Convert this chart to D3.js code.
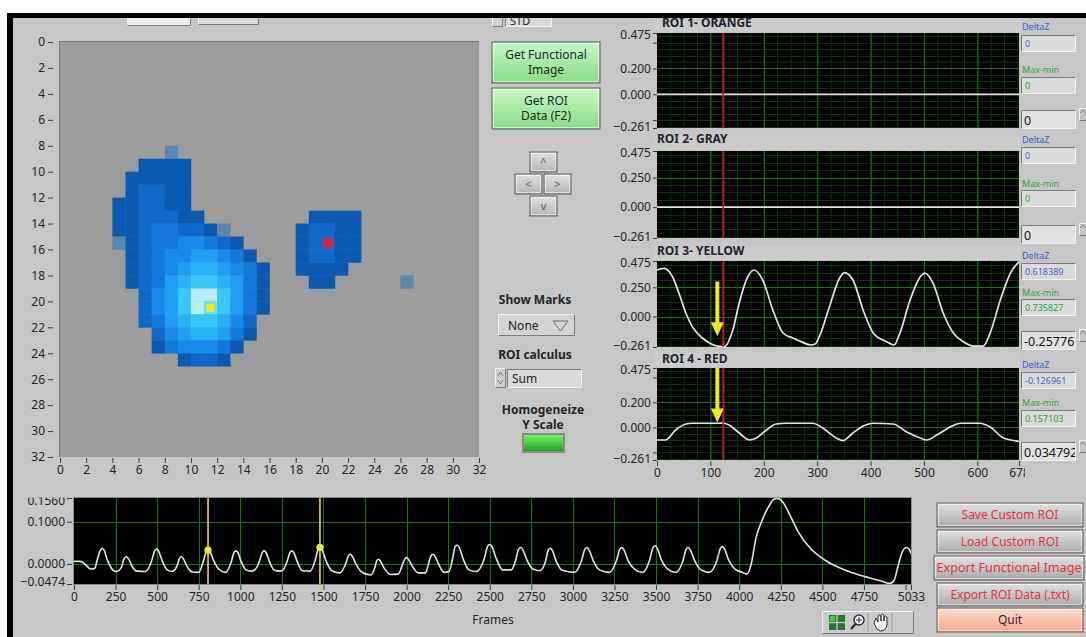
<!DOCTYPE html>
<html>
<head>
<meta charset="utf-8">
<title>ROI Functional Imaging</title>
<script src="https://cdn.jsdelivr.net/npm/d3@7/dist/d3.min.js"></script>
<style>
  html,body{margin:0;padding:0;background:#fff;}
  svg{display:block;}
  text{font-family:"Noto Sans","Open Sans",sans-serif;}
</style>
</head>
<body>
<svg id="panel" width="1086" height="637"></svg>
<script>
// ================= data =================
// Functional image, 32 x 32 pixels. One string per row:
// '.' = below threshold, 'g' = isolated pixel, '1'..'9' = intensity level
const imageRows = [
  "", "", "", "", "", "", "", "",
  "........g",
  "......1111",
  ".....11111",
  ".....12211",
  "....112211",
  "....1122211........1111",
  "....11233221g.....12211",
  "....g123344321....12211",
  ".....1234455431...12211",
  ".....12345665431..1111",
  ".....12356776531...11.....g",
  "......2457997531",
  "......2457987531",
  "......235677642",
  ".......24566531",
  ".......1344431",
  ".........1221",
  "", "", "", "", "", "", ""
];
const imageTicks = [0,2,4,6,8,10,12,14,16,18,20,22,24,26,28,30,32];
const roiMarks = [
  {col: 11, row: 20, mark: "yellow"},
  {col: 20, row: 15, mark: "red"}
];

// ROI traces
const roiNames = ["ROI 1- ORANGE", "ROI 2- GRAY", "ROI 3- YELLOW", "ROI 4 - RED"];
const roiYTicks = [
  [0.475, 0.200, 0.000, -0.261],
  [0.475, 0.250, 0.000, -0.261],
  [0.475, 0.250, 0.000, -0.261],
  [0.475, 0.200, 0.000, -0.261]
];
const roiMinorTicks = [[0.4, -0.2], [], [], [0.4, -0.2]];
const roiFrameTicks = [0, 100, 200, 300, 400, 500, 600, 678];
const roiCursorFrame = 124;

const roi1Frames = [0, 678];
const roi1Values = [0, 0];
const roi2Frames = [0, 678];
const roi2Values = [0, 0];
const roi3Frames = [0, 13, 29, 41, 54, 66, 85, 100, 116, 126, 142, 154, 170, 182, 198, 217, 236, 254, 270, 288, 296, 304, 323, 342, 351, 367, 386, 405, 430, 444, 455, 474, 493, 502, 517, 536, 555, 574, 593, 611, 624, 643, 662, 678];
const roi3Values = [0.398, 0.412, 0.341, 0.201, 0.030, -0.087, -0.184, -0.232, -0.255, -0.258, -0.116, 0.116, 0.341, 0.398, 0.312, 0.056, -0.141, -0.184, -0.215, -0.244, -0.236, -0.173, 0.084, 0.329, 0.375, 0.312, 0.056, -0.141, -0.216, -0.244, -0.141, 0.141, 0.341, 0.372, 0.286, 0.030, -0.141, -0.216, -0.253, -0.253, -0.141, 0.141, 0.372, 0.469];
const roi4Frames = [0, 16, 35, 54, 66, 116, 124, 135, 154, 173, 186, 205, 223, 242, 292, 311, 336, 348, 367, 386, 405, 442, 467, 493, 505, 524, 549, 568, 605, 624, 649, 678];
const roi4Values = [-0.101, -0.101, -0.021, 0.027, 0.033, 0.033, 0.035, 0.019, -0.045, -0.101, -0.085, -0.021, 0.027, 0.033, 0.033, -0.007, -0.085, -0.106, -0.045, 0.011, 0.033, 0.027, -0.035, -0.085, -0.101, -0.061, 0.003, 0.033, 0.033, 0.003, -0.085, -0.111];

const roiDeltaZ = ["0", "0", "0.618389", "-0.126961"];
const roiMaxMin = ["0", "0", "0.735827", "0.157103"];
const roiCursorValue = ["0", "0", "-0.25776", "0.034792"];

// Whole-recording trace
const traceFrames = [
  0, 40, 70, 100, 125,
  140, 158, 170, 182, 200, 225, 253,
  285, 302, 315, 328, 350, 377, 430,
  465, 485, 497, 509, 530, 560, 590,
  620, 635, 646, 658, 680, 710, 750,
  776, 795, 806, 818, 840, 870, 910,
  945, 962, 973, 985, 1005, 1035, 1075,
  1113, 1132, 1143, 1155, 1175, 1205, 1245,
  1280, 1298, 1309, 1321, 1342, 1372, 1420,
  1450, 1468, 1479, 1491, 1515, 1550, 1600,
  1633, 1650, 1661, 1673, 1695, 1730, 1785,
  1808, 1821, 1831, 1842, 1865, 1905, 1950,
  1972, 1988, 1999, 2010, 2035, 2070, 2115,
  2130, 2147, 2158, 2170, 2192, 2225, 2255,
  2275, 2292, 2303, 2316, 2340, 2375, 2420,
  2465, 2488, 2500, 2513, 2540, 2578, 2630,
  2655, 2674, 2686, 2698, 2725, 2760, 2800,
  2835, 2852, 2864, 2876, 2900, 2935, 3010,
  3052, 3072, 3084, 3096, 3122, 3160, 3220,
  3262, 3282, 3294, 3306, 3332, 3370, 3420,
  3462, 3482, 3494, 3506, 3532, 3570, 3620,
  3662, 3681, 3693, 3705, 3732, 3770, 3820,
  3866, 3887, 3899, 3911, 3938, 3975, 4020,
  4045, 4071, 4100, 4134, 4176, 4205, 4224, 4245, 4265, 4302, 4355, 4428, 4512, 4596, 4680, 4785, 4859, 4905,
  4930, 4955, 4980, 5005, 5020, 5033
];
const traceValues = [
  0.006, 0.006, -0.002, -0.012, -0.010,
  0.010, 0.032, 0.037, 0.032, 0.010, -0.010, -0.018,
  -0.008, 0.013, 0.017, 0.012, -0.006, -0.017, -0.018,
  0.005, 0.031, 0.035, 0.030, 0.008, -0.014, -0.018,
  -0.004, 0.013, 0.017, 0.012, -0.006, -0.019, -0.020,
  0.004, 0.029, 0.033, 0.029, 0.008, -0.012, -0.020,
  0.004, 0.027, 0.031, 0.027, 0.006, -0.014, -0.017,
  0.004, 0.027, 0.031, 0.027, 0.006, -0.015, -0.017,
  0.004, 0.027, 0.031, 0.027, 0.006, -0.016, -0.017,
  0.008, 0.035, 0.039, 0.034, 0.008, -0.016, -0.021,
  0.000, 0.019, 0.023, 0.019, 0.000, -0.019, -0.026,
  -0.010, 0.008, 0.011, 0.007, -0.010, -0.025, -0.024,
  -0.005, 0.011, 0.015, 0.011, -0.006, -0.021, -0.021,
  -0.002, 0.019, 0.023, 0.019, 0.000, -0.020, -0.018,
  0.010, 0.041, 0.045, 0.040, 0.012, -0.014, -0.018,
  0.010, 0.042, 0.046, 0.041, 0.012, -0.014, -0.014,
  0.008, 0.035, 0.039, 0.034, 0.008, -0.012, -0.016,
  0.006, 0.033, 0.037, 0.032, 0.006, -0.015, -0.020,
  0.008, 0.035, 0.039, 0.034, 0.008, -0.014, -0.020,
  0.008, 0.035, 0.039, 0.034, 0.008, -0.012, -0.020,
  0.010, 0.039, 0.043, 0.038, 0.010, -0.012, -0.020,
  0.008, 0.035, 0.039, 0.034, 0.008, -0.014, -0.020,
  0.008, 0.037, 0.041, 0.036, 0.008, -0.012, -0.020,
  -0.024, -0.002, 0.060, 0.100, 0.135, 0.152, 0.155, 0.153, 0.145, 0.118, 0.076, 0.037, 0.010, -0.008, -0.021, -0.033, -0.041, -0.046,
  -0.040, -0.005, 0.028, 0.039, 0.036, 0.025
];
const traceYTicks = [0.1560, 0.1000, 0.0000, -0.0474];
const traceFrameTicks = [0, 250, 500, 750, 1000, 1250, 1500, 1750, 2000, 2250, 2500, 2750, 3000, 3250, 3500, 3750, 4000, 4250, 4500, 4750, 5000, 5033];
const traceCursorFrames = [806, 1479];

// ================= styles =================
const levelColors = {
  "1": "#0b5ab2", "2": "#0e69c9", "3": "#1479dc", "4": "#1a8aea", "5": "#209ef2",
  "6": "#28b2f6", "7": "#36c6f8", "8": "#70dbf8", "9": "#b6eef6", "g": "#5b87ad"
};
const PANEL = "#c6c6c6";
const TEXT = "#262626";
const GRID_MAJOR = "#1d761d";
const GRID_MINOR = "#0b360b";
const TRACE = "#e4e4e4";

const svg = d3.select("#panel");
const defs = svg.append("defs");

function gradient(id, c0, c1) {
  const g = defs.append("linearGradient").attr("id", id).attr("x1", 0).attr("y1", 0).attr("x2", 0).attr("y2", 1);
  g.append("stop").attr("offset", "0%").attr("stop-color", c0);
  g.append("stop").attr("offset", "100%").attr("stop-color", c1);
}
gradient("gGreen", "#c9f7c6", "#86dc84");
gradient("gGray", "#e2e2e2", "#a9a9a9");
gradient("gQuit", "#fcdccc", "#f3a98c");
gradient("gLed", "#74f26a", "#1ea51e");
gradient("gKey", "#e0e0e0", "#b4b4b4");

function bevel(g, x, y, w, h, fill, sunken) {
  g.append("rect").attr("x", x).attr("y", y).attr("width", w).attr("height", h).attr("fill", fill);
  const dark = "#7c7c7c", light = "#f1f1f1";
  g.append("path").attr("d", `M${x + 0.5},${y + h - 0.5}V${y + 0.5}H${x + w - 0.5}`)
    .attr("fill", "none").attr("stroke", sunken ? dark : light);
  g.append("path").attr("d", `M${x + w - 0.5},${y + 0.5}V${y + h - 0.5}H${x + 0.5}`)
    .attr("fill", "none").attr("stroke", sunken ? light : dark);
}

function styleAxis(g, size) {
  g.select(".domain").remove();
  g.selectAll(".tick line").attr("stroke", "#3c3c3c");
  g.selectAll(".tick text").attr("fill", TEXT).style("font-size", (size || 12) + "px")
    .style("font-family", "'Noto Sans','Open Sans',sans-serif");
}

// ================= front panel =================
svg.append("rect").attr("width", 1086).attr("height", 637).attr("fill", "#fff");
svg.append("rect").attr("x", 13).attr("y", 18).attr("width", 1073).attr("height", 619).attr("fill", PANEL);

// partially visible controls along the top edge
const topBar = svg.append("g");
bevel(topBar, 127, 17, 64, 9, "#ececec", false);
bevel(topBar, 198, 17, 61, 8, "#d9d9d9", false);
bevel(topBar, 492, 14, 11, 13, "#d0d0d0", false);
bevel(topBar, 505, 14, 47, 13, "#dadada", true);
topBar.append("text").attr("x", 510).attr("y", 25).attr("font-size", 11).attr("fill", TEXT).text("STD");

// ================= functional image =================
const hx = d3.scaleLinear().domain([0, 32]).range([60, 479]);
const hy = d3.scaleLinear().domain([0, 32]).range([42, 457]);
const img = svg.append("g");
img.append("rect").attr("x", hx(0)).attr("y", hy(0)).attr("width", hx(32) - hx(0)).attr("height", hy(32) - hy(0))
  .attr("fill", "#9c9c9c");
img.append("path").attr("d", `M${hx(0) - 0.5},${hy(32)}V${hy(0) - 0.5}H${hx(32)}`).attr("stroke", "#7a7a7a").attr("fill", "none");

const pixels = [];
imageRows.forEach((row, r) => {
  row.padEnd(32, ".").split("").forEach((ch, c) => { if (ch !== ".") pixels.push({r, c, ch}); });
});
img.selectAll("rect.px").data(pixels).join("rect").attr("class", "px")
  .attr("x", d => hx(d.c)).attr("y", d => hy(d.r))
  .attr("width", d => hx(d.c + 1) - hx(d.c) + 0.3).attr("height", d => hy(d.r + 1) - hy(d.r) + 0.3)
  .attr("fill", d => levelColors[d.ch]);

roiMarks.forEach(m => {
  const cx = (hx(m.col) + hx(m.col + 1)) / 2, cy = (hy(m.row) + hy(m.row + 1)) / 2;
  if (m.mark === "red") {
    img.append("rect").attr("x", hx(m.col) + 1).attr("y", hy(m.row) + 1)
      .attr("width", hx(m.col + 1) - hx(m.col) - 2).attr("height", hy(m.row + 1) - hy(m.row) - 2)
      .attr("fill", "#9c3a6c");
    img.append("rect").attr("x", cx - 3).attr("y", cy - 3).attr("width", 6).attr("height", 6).attr("fill", "#ea1c2c");
  } else {
    img.append("rect").attr("x", cx - 4).attr("y", cy - 4).attr("width", 8).attr("height", 8).attr("fill", "#f3ea12");
  }
});

const hyAxis = svg.append("g").attr("transform", "translate(53,0)")
  .call(d3.axisLeft(hy).tickValues(imageTicks).tickSize(5).tickPadding(3).tickFormat(d3.format("d")));
styleAxis(hyAxis);
const hxAxis = svg.append("g").attr("transform", `translate(0,${hy(32) + 1})`)
  .call(d3.axisBottom(hx).tickValues(imageTicks).tickSize(5).tickPadding(2).tickFormat(d3.format("d")));
styleAxis(hxAxis);

// ================= middle controls =================
const mid = svg.append("g");
function button(g, x, y, w, h, fill, lines, color, size) {
  g.append("rect").attr("x", x).attr("y", y).attr("width", w).attr("height", h).attr("fill", fill)
    .attr("stroke", "#5e5e5e").attr("stroke-width", 1);
  g.append("rect").attr("x", x + 1.5).attr("y", y + 1.5).attr("width", w - 3).attr("height", h - 3)
    .attr("fill", "none").attr("stroke", "rgba(255,255,255,0.55)");
  const n = lines.length, lh = size + 3;
  lines.forEach((t, i) => {
    g.append("text").attr("x", x + w / 2).attr("y", y + h / 2 + (i - (n - 1) / 2) * lh + size * 0.36)
      .attr("text-anchor", "middle").attr("font-size", size).attr("fill", color).text(t);
  });
}
button(mid, 492, 42, 108, 41, "url(#gGreen)", ["Get Functional", "Image"], "#1f2b1f", 12);
button(mid, 492, 88, 108, 41, "url(#gGreen)", ["Get ROI", "Data (F2)"], "#1f2b1f", 12);

// navigation keypad
[["^", 530, 152], ["<", 515, 174], [">", 544, 174], ["v", 530, 196]].forEach(([t, x, y]) => {
  button(mid, x, y, 27, 20, "url(#gKey)", [t], "#5a5a5a", 11);
});

mid.append("text").attr("x", 535).attr("y", 304).attr("text-anchor", "middle").attr("font-size", 12)
  .attr("font-weight", "bold").attr("fill", TEXT).text("Show Marks");
bevel(mid, 498, 314, 77, 22, "#d3d3d3", false);
mid.append("text").attr("x", 508).attr("y", 330).attr("font-size", 12).attr("fill", TEXT).text("None");
mid.append("path").attr("d", "M553,321H568L560.5,331Z").attr("fill", "none").attr("stroke", "#6a6a6a");

mid.append("text").attr("x", 535).attr("y", 359).attr("text-anchor", "middle").attr("font-size", 12)
  .attr("font-weight", "bold").attr("fill", TEXT).text("ROI calculus");
bevel(mid, 495, 368, 11, 20, "#cdcdcd", false);
mid.append("path").attr("d", "M498,376L500.5,372L503,376M498,380L500.5,384L503,380").attr("fill", "none").attr("stroke", "#777");
bevel(mid, 507, 369, 75, 19, "#d9d9d9", true);
mid.append("text").attr("x", 512).attr("y", 383).attr("font-size", 12).attr("fill", TEXT).text("Sum");

mid.append("text").attr("x", 543).attr("y", 414).attr("text-anchor", "middle").attr("font-size", 12)
  .attr("font-weight", "bold").attr("fill", TEXT).text("Homogeneize");
mid.append("text").attr("x", 543).attr("y", 429).attr("text-anchor", "middle").attr("font-size", 12)
  .attr("font-weight", "bold").attr("fill", TEXT).text("Y Scale");
mid.append("rect").attr("x", 522).attr("y", 433).attr("width", 43).attr("height", 20).attr("fill", "#8a8a8a");
mid.append("rect").attr("x", 524).attr("y", 435).attr("width", 39).attr("height", 16).attr("fill", "url(#gLed)");

// ================= ROI graphs =================
const rx = d3.scaleLinear().domain([0, 678]).range([657, 1019]);
const panels = [
  {title: 22, top: 33, bottom: 128, dz: 27, dzBox: 35, mm: 70, mmBox: 77, cur: 110},
  {title: 138, top: 151, bottom: 238, dz: 140, dzBox: 147, mm: 184, mmBox: 190, cur: 225},
  {title: 250, top: 261, bottom: 347, dz: 256, dzBox: 263, mm: 293, mmBox: 299, cur: 331},
  {title: 358, top: 368, bottom: 460, dz: 365, dzBox: 372, mm: 403, mmBox: 410, cur: 442}
];
const roiSeries = [
  [roi1Frames, roi1Values], [roi2Frames, roi2Values], [roi3Frames, roi3Values], [roi4Frames, roi4Values]
];
const arrowSpans = [null, null, [0.30, -0.17], [0.475, 0.04]];

panels.forEach((p, i) => {
  const g = svg.append("g");
  const ry = d3.scaleLinear().domain([-0.261, 0.475]).range([p.bottom, p.top]);
  const ticks = roiYTicks[i];

  // title strip
  g.append("rect").attr("x", 654).attr("y", p.top - 15).attr("width", 367).attr("height", 14).attr("fill", "#cbcbcb");
  g.append("text").attr("x", i === 0 || i === 3 ? 662 : 657).attr("y", p.title + 4.5).attr("font-size", 12)
    .attr("font-weight", "bold").attr("fill", "#1e2430").text(roiNames[i]);

  // plot area
  const clipId = "clipRoi" + i;
  defs.append("clipPath").attr("id", clipId).append("rect")
    .attr("x", rx(0)).attr("y", p.top).attr("width", rx(678) - rx(0)).attr("height", p.bottom - p.top);
  g.append("rect").attr("x", rx(0)).attr("y", p.top).attr("width", rx(678) - rx(0)).attr("height", p.bottom - p.top)
    .attr("fill", "#000");
  const plot = g.append("g").attr("clip-path", `url(#${clipId})`);

  // grid: four minor divisions per major division
  const ystep = (ticks[1] - ticks[2]) / 4;
  const hMinor = d3.range(Math.ceil(-0.261 / ystep), Math.floor(0.475 / ystep) + 1).map(k => k * ystep);
  const vMinor = d3.range(25, 678, 25);
  plot.selectAll("line.vmin").data(vMinor).join("line").attr("class", "vmin")
    .attr("x1", d => rx(d) + 0.5).attr("x2", d => rx(d) + 0.5).attr("y1", p.top).attr("y2", p.bottom)
    .attr("stroke", GRID_MINOR);
  plot.selectAll("line.hmin").data(hMinor).join("line").attr("class", "hmin")
    .attr("y1", d => Math.round(ry(d)) + 0.5).attr("y2", d => Math.round(ry(d)) + 0.5).attr("x1", rx(0)).attr("x2", rx(678))
    .attr("stroke", GRID_MINOR);
  plot.selectAll("line.vmaj").data(roiFrameTicks.slice(1, -1)).join("line").attr("class", "vmaj")
    .attr("x1", d => rx(d) + 0.5).attr("x2", d => rx(d) + 0.5).attr("y1", p.top).attr("y2", p.bottom)
    .attr("stroke", GRID_MAJOR);
  plot.selectAll("line.hmaj").data(ticks.slice(1, -1)).join("line").attr("class", "hmaj")
    .attr("y1", d => Math.round(ry(d)) + 0.5).attr("y2", d => Math.round(ry(d)) + 0.5).attr("x1", rx(0)).attr("x2", rx(678))
    .attr("stroke", GRID_MAJOR);

  // trace
  const [fr, vals] = roiSeries[i];
  const pts = fr.map((f, k) => [f, vals[k]]);
  plot.append("path").datum(pts).attr("fill", "none").attr("stroke", TRACE).attr("stroke-width", 1.7)
    .attr("d", d3.line().x(d => rx(d[0])).y(d => ry(d[1])).curve(d3.curveMonotoneX));

  // cursor
  plot.append("line").attr("x1", rx(roiCursorFrame)).attr("x2", rx(roiCursorFrame))
    .attr("y1", p.top).attr("y2", p.bottom).attr("stroke", "#d8141c").attr("stroke-width", 1.6);

  // annotation arrow
  if (arrowSpans[i]) {
    const ax = rx(113), y0 = ry(arrowSpans[i][0]), y1 = ry(arrowSpans[i][1]);
    g.append("path").attr("fill", "#f5e81a")
      .attr("d", `M${ax - 2},${y0}H${ax + 2}V${y1 - 14}H${ax + 6.5}L${ax},${y1}L${ax - 6.5},${y1 - 14}H${ax - 2}Z`);
  }

  // y axis
  const ya = g.append("g").attr("transform", `translate(${rx(0)},0)`)
    .call(d3.axisLeft(ry).tickValues(ticks).tickSize(4).tickPadding(2).tickFormat(d3.format(".3f")));
  styleAxis(ya);
  ya.selectAll(".tick text").attr("dy", (d, k) => k === 0 ? "0.45em" : (k === ticks.length - 1 ? "0.2em" : "0.32em"));
  roiMinorTicks[i].forEach(v => {
    g.append("line").attr("x1", rx(0) - 4).attr("x2", rx(0)).attr("y1", ry(v) + 0.5).attr("y2", ry(v) + 0.5)
      .attr("stroke", "#3c3c3c");
  });

  // side read-outs
  const s = svg.append("g");
  s.append("text").attr("x", 1022).attr("y", p.dz + 3).attr("font-size", 9).attr("fill", "#3b62d4").text("DeltaZ");
  bevel(s, 1021, p.dzBox, 55, 17, "#dadada", true);
  s.append("text").attr("x", 1025).attr("y", p.dzBox + 12).attr("font-size", 9).attr("fill", "#3f62d2").text(roiDeltaZ[i]);
  s.append("text").attr("x", 1022).attr("y", p.mm + 3).attr("font-size", 9).attr("fill", "#36a23a").text("Max-min");
  bevel(s, 1021, p.mmBox, 55, 17, "#dadada", true);
  s.append("text").attr("x", 1025).attr("y", p.mmBox + 12).attr("font-size", 9).attr("fill", "#2f9e3a").text(roiMaxMin[i]);

  const cid = "clipCur" + i;
  defs.append("clipPath").attr("id", cid).append("rect").attr("x", 1021).attr("y", p.cur).attr("width", 54).attr("height", 19);
  bevel(s, 1021, p.cur, 55, 19, "#e1e1e1", true);
  s.append("text").attr("clip-path", `url(#${cid})`).attr("x", 1024).attr("y", p.cur + 14.5).attr("font-size", 12.5)
    .attr("fill", "#141414").text(roiCursorValue[i]);
  bevel(s, 1079, p.cur - 2, 8, 13, "#c4c4c4", false);
  s.append("path").attr("d", `M1080.5,${p.cur + 3}L1083,${p.cur}L1085.5,${p.cur + 3}`).attr("fill", "none").attr("stroke", "#5d8f5d");
});

// shared frame axis under ROI 4
{
  const p = panels[3];
  defs.append("clipPath").attr("id", "clipRoiAxis").append("rect").attr("x", 600).attr("y", p.bottom).attr("width", 425).attr("height", 30);
  const xa = svg.append("g").attr("clip-path", "url(#clipRoiAxis)").append("g").attr("transform", `translate(0,${p.bottom + 1})`)
    .call(d3.axisBottom(rx).tickValues(roiFrameTicks).tickSize(5).tickPadding(2).tickFormat(d3.format("d")));
  styleAxis(xa);
}

// ================= whole-recording trace =================
const tx = d3.scaleLinear().domain([0, 5033]).range([74, 911]);
const ty = d3.scaleLinear().domain([-0.0474, 0.1560]).range([584, 498]);
const tr = svg.append("g");
tr.append("rect").attr("x", tx(0) - 1).attr("y", ty(0.156) - 1).attr("width", tx(5033) - tx(0) + 2)
  .attr("height", ty(-0.0474) - ty(0.156) + 2).attr("fill", "#8e8e8e");
tr.append("rect").attr("x", tx(0)).attr("y", ty(0.156)).attr("width", tx(5033) - tx(0))
  .attr("height", ty(-0.0474) - ty(0.156)).attr("fill", "#000");
defs.append("clipPath").attr("id", "clipTrace").append("rect")
  .attr("x", tx(0)).attr("y", ty(0.156)).attr("width", tx(5033) - tx(0)).attr("height", ty(-0.0474) - ty(0.156));
const tplot = tr.append("g").attr("clip-path", "url(#clipTrace)");
tplot.selectAll("line.v").data(traceFrameTicks.slice(1, -2)).join("line").attr("class", "v")
  .attr("x1", d => Math.round(tx(d)) + 0.5).attr("x2", d => Math.round(tx(d)) + 0.5)
  .attr("y1", ty(0.156)).attr("y2", ty(-0.0474)).attr("stroke", GRID_MAJOR);
tplot.selectAll("line.h").data(traceYTicks.slice(1, -1)).join("line").attr("class", "h")
  .attr("y1", d => Math.round(ty(d)) + 0.5).attr("y2", d => Math.round(ty(d)) + 0.5)
  .attr("x1", tx(0)).attr("x2", tx(5033)).attr("stroke", GRID_MAJOR);

const tracePts = traceFrames.map((f, k) => [f, traceValues[k]]);
tplot.append("path").datum(tracePts).attr("fill", "none").attr("stroke", TRACE).attr("stroke-width", 1.6)
  .attr("d", d3.line().x(d => tx(d[0])).y(d => ty(d[1])).curve(d3.curveMonotoneX));

traceCursorFrames.forEach(f => {
  const v = traceValues[traceFrames.indexOf(f)];
  tplot.append("line").attr("x1", tx(f)).attr("x2", tx(f)).attr("y1", ty(0.156)).attr("y2", ty(-0.0474))
    .attr("stroke", "#e9dc2a").attr("stroke-width", 1.6);
  tplot.append("circle").attr("cx", tx(f)).attr("cy", ty(v)).attr("r", 3.6).attr("fill", "#f2ea2e");
});

const tya = svg.append("g").attr("transform", `translate(${tx(0) - 2},0)`)
  .call(d3.axisLeft(ty).tickValues(traceYTicks).tickSize(5).tickPadding(2).tickFormat(d3.format(".4f")));
styleAxis(tya);
tya.selectAll(".tick text").attr("dy", (d, k) => k === 0 ? "0.5em" : (k === traceYTicks.length - 1 ? "0.1em" : "0.32em"));
// the top label sits partly under the panel edge above the graph
svg.append("rect").attr("x", 14).attr("y", 488).attr("width", 58).attr("height", 9.5).attr("fill", PANEL);

const txa = svg.append("g").attr("transform", `translate(0,${ty(-0.0474) + 1})`)
  .call(d3.axisBottom(tx).tickValues(traceFrameTicks).tickSize(5).tickPadding(2)
    .tickFormat(d => d === 5000 ? "" : d3.format("d")(d)));
styleAxis(txa);
svg.append("text").attr("x", tx(2520)).attr("y", 624).attr("text-anchor", "middle").attr("font-size", 12)
  .attr("fill", TEXT).text("Frames");

// graph palette (cursor / zoom / pan)
{
  const g = svg.append("g");
  bevel(g, 822, 611, 92, 23, "#cbcbcb", false);
  g.append("rect").attr("x", 829).attr("y", 615).attr("width", 16).attr("height", 15).attr("fill", "#2f6f3a");
  g.append("path").attr("d", "M837,615V630M829,622.5H845").attr("stroke", "#b8c8b8").attr("stroke-width", 1.4);
  g.append("rect").attr("x", 830).attr("y", 616).attr("width", 5).attr("height", 5).attr("fill", "#44d044");
  g.append("circle").attr("cx", 859).attr("cy", 620).attr("r", 5).attr("fill", "#eef3ff").attr("stroke", "#2e2e2e").attr("stroke-width", 1.4);
  g.append("path").attr("d", "M856,620H862M859,617V623").attr("stroke", "#2e2e2e");
  g.append("path").attr("d", "M855.5,624L851,629").attr("stroke", "#2e2e2e").attr("stroke-width", 2.4);
  g.append("line").attr("x1", 868).attr("x2", 868).attr("y1", 613).attr("y2", 632).attr("stroke", "#9a9a9a");
  g.append("path").attr("fill", "#f1efe8").attr("stroke", "#2e2e2e").attr("stroke-width", 1)
    .attr("d", "M874,623L876,618L878,622V616Q879.5,614 881,616V621V615Q882.5,613 884,615V621V617Q885.5,615 887,617V625Q886,631 880,631Q876,630 874,623Z");
  g.append("line").attr("x1", 892).attr("x2", 892).attr("y1", 613).attr("y2", 632).attr("stroke", "#9a9a9a");
}

// file / program buttons
[
  ["Save Custom ROI", 937, 503, 146, 24, "url(#gGray)", "#e3333f"],
  ["Load Custom ROI", 937, 530, 146, 23, "url(#gGray)", "#e3333f"],
  ["Export Functional Image", 934, 556, 150, 24, "url(#gGray)", "#e3333f"],
  ["Export ROI Data (.txt)", 937, 583, 146, 23, "url(#gGray)", "#e3333f"],
  ["Quit", 937, 608, 146, 24, "url(#gQuit)", "#2a2a2a"]
].forEach(([t, x, y, w, h, fill, color]) => {
  const g = svg.append("g");
  button(g, x, y, w, h, fill, [t], color, 12);
  if (t === "Export Functional Image") g.select("text").attr("textLength", 145).attr("lengthAdjust", "spacingAndGlyphs");
});

// window frame drawn last
svg.append("rect").attr("x", 7).attr("y", 13).attr("width", 1079).attr("height", 5).attr("fill", "#000");
svg.append("rect").attr("x", 7).attr("y", 13).attr("width", 6).attr("height", 624).attr("fill", "#000");
</script>
</body>
</html>
